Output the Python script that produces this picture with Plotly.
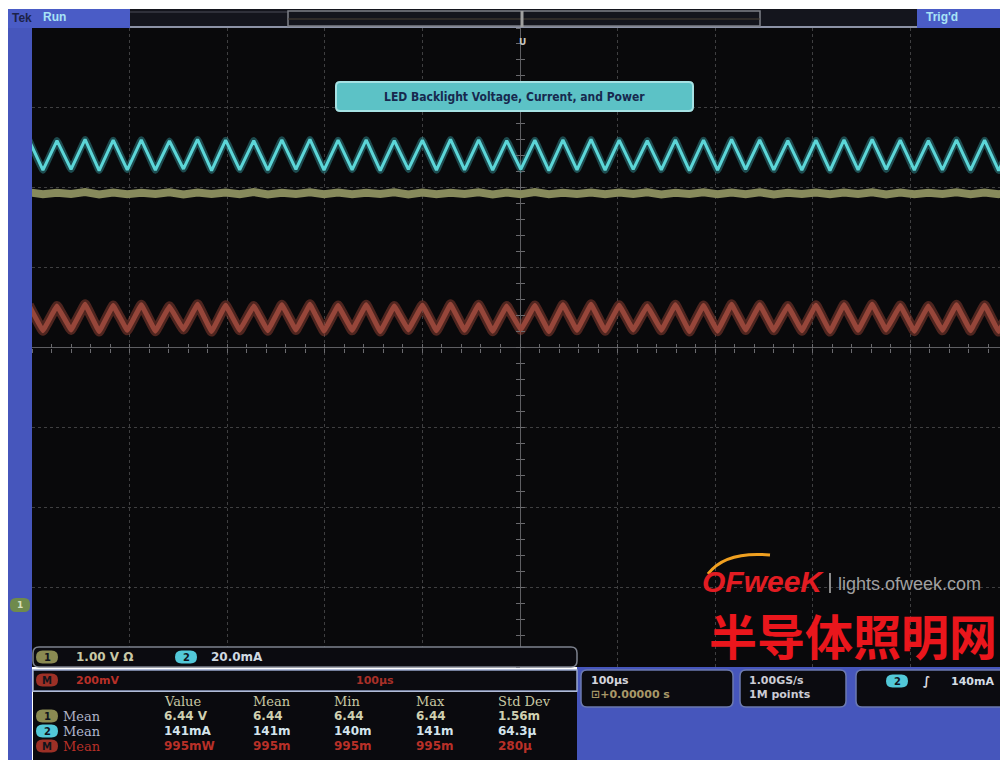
import plotly.graph_objects as go

# The page body adds an 8px margin, so the figure itself is 1000x752 and
# all decoration coordinates below are screen pixels shifted by that margin.
W, H = 1000, 752
OX, OY = 8, 8

time_range_us = [-500, 500]          # 100 us/div, 10 div, trigger at centre
period_us = 28.8                     # ripple period
first_peak_us = -503.2

# Channel 2 (current, mA) - vertex values of the triangle ripple
ch2_peak_mA = [144.8, 144.6, 144.9, 144.7, 144.8, 144.5, 144.9, 144.7, 144.6, 144.8,
               144.9, 144.7, 144.8, 144.6, 144.7, 144.9, 144.8, 144.6, 144.7, 144.8,
               144.9, 144.7, 144.6, 144.8, 144.7, 144.9, 144.8, 144.6, 144.7, 144.8,
               144.9, 144.7, 144.6, 144.8, 144.7, 144.8]
ch2_trough_mA = [137.2, 137.4, 137.1, 137.3, 137.2, 137.5, 137.1, 137.3, 137.2, 137.4,
                 137.2, 137.3, 137.1, 137.4, 137.2, 137.3, 137.2, 137.4, 137.1, 137.3,
                 137.2, 137.4, 137.3, 137.1, 137.2, 137.4, 137.3, 137.2, 137.1, 137.3,
                 137.4, 137.2, 137.3, 137.2, 137.1]

# Channel 1 (voltage, V) - nearly flat with small ripple
ch1_peak_V = [6.452, 6.448, 6.455, 6.450, 6.446, 6.453, 6.449, 6.451, 6.456, 6.447,
              6.452, 6.450, 6.448, 6.454, 6.451, 6.447, 6.453, 6.450, 6.455, 6.448,
              6.451, 6.449, 6.453, 6.447, 6.452, 6.450, 6.454, 6.448, 6.451, 6.449,
              6.453, 6.450, 6.447, 6.452, 6.449, 6.451]
ch1_trough_V = [6.428, 6.432, 6.426, 6.430, 6.433, 6.427, 6.431, 6.429, 6.425, 6.432,
                6.428, 6.430, 6.433, 6.427, 6.429, 6.431, 6.426, 6.430, 6.428, 6.432,
                6.429, 6.431, 6.427, 6.433, 6.428, 6.430, 6.426, 6.431, 6.429, 6.432,
                6.427, 6.430, 6.433, 6.428, 6.430]

# Math (power, mW)
math_peak_mW = [1027, 1025, 1029, 1026, 1028, 1024, 1029, 1027, 1025, 1028,
                1029, 1026, 1028, 1025, 1027, 1029, 1028, 1025, 1026, 1028,
                1029, 1027, 1025, 1028, 1026, 1029, 1028, 1025, 1027, 1028,
                1029, 1026, 1025, 1028, 1027, 1028]
math_trough_mW = [963, 965, 961, 964, 962, 966, 961, 964, 963, 965,
                  962, 964, 961, 965, 963, 964, 962, 965, 961, 964,
                  963, 965, 964, 961, 962, 965, 964, 963, 961, 964,
                  965, 962, 964, 963, 961]

# Vertical scale (units/div) and screen position (div)
ch1_scale, ch1_pos = 1.0, -4.51
ch2_scale, ch2_pos = 20.0, -4.64
math_scale, math_pos = 200.0, -4.605

# Readouts
ch_row = ["1.00 V Ω", "20.0mA"]
math_row = ["200mV", "100µs"]
meas_headers = ["Value", "Mean", "Min", "Max", "Std Dev"]
meas_ch1 = ["6.44 V", "6.44", "6.44", "6.44", "1.56m"]
meas_ch2 = ["141mA", "141m", "140m", "141m", "64.3µ"]
meas_math = ["995mW", "995m", "995m", "995m", "280µ"]
title_text = "LED Backlight Voltage, Current, and Power"

# ---------------- helpers ----------------
def fx(x):
    return (x - OX) / W

def fy(y):
    return 1 - (y - OY) / H

def vertices(peaks, troughs, scale, pos):
    t, v = [], []
    for i, p in enumerate(peaks):
        t.append(first_peak_us + i * period_us)
        v.append(p / scale + pos)
        if i < len(troughs):
            t.append(first_peak_us + (i + 0.5) * period_us)
            v.append(troughs[i] / scale + pos)
    return t, v

def rrect(x0, y0, x1, y1, r):
    return (f"M {fx(x0+r)},{fy(y0)} L {fx(x1-r)},{fy(y0)} Q {fx(x1)},{fy(y0)} {fx(x1)},{fy(y0+r)} "
            f"L {fx(x1)},{fy(y1-r)} Q {fx(x1)},{fy(y1)} {fx(x1-r)},{fy(y1)} "
            f"L {fx(x0+r)},{fy(y1)} Q {fx(x0)},{fy(y1)} {fx(x0)},{fy(y1-r)} "
            f"L {fx(x0)},{fy(y0+r)} Q {fx(x0)},{fy(y0)} {fx(x0+r)},{fy(y0)} Z")

shapes = []
annos = []

def rect(x0, y0, x1, y1, fill, line=None, lw=0):
    shapes.append(dict(type="rect", xref="paper", yref="paper", layer="above",
                       x0=fx(x0), x1=fx(x1), y0=fy(y1), y1=fy(y0),
                       fillcolor=fill, line=dict(color=line or fill, width=lw)))

def rbox(x0, y0, x1, y1, r, fill, line=None, lw=0):
    shapes.append(dict(type="path", xref="paper", yref="paper", layer="above",
                       path=rrect(x0, y0, x1, y1, r), fillcolor=fill,
                       line=dict(color=line or fill, width=lw)))

def hline(x0, x1, y, color, w=1):
    shapes.append(dict(type="line", xref="paper", yref="paper", layer="above",
                       x0=fx(x0), x1=fx(x1), y0=fy(y), y1=fy(y), line=dict(color=color, width=w)))

def vline(x, y0, y1, color, w=1):
    shapes.append(dict(type="line", xref="paper", yref="paper", layer="above",
                       x0=fx(x), x1=fx(x), y0=fy(y0), y1=fy(y1), line=dict(color=color, width=w)))

def text(x, y, s, color, size=12, anchor="left", family="DejaVu Sans", bold=True, bg=None):
    annos.append(dict(xref="paper", yref="paper", x=fx(x), y=fy(y), text=(f"<b>{s}</b>" if bold else s),
                      showarrow=False, xanchor=anchor, yanchor="middle",
                      font=dict(color=color, size=size, family=family),
                      bgcolor=bg, borderpad=0))

def badge(x0, y, label, fill, w=22, h=13):
    rbox(x0, y - h / 2, x0 + w, y + h / 2, h / 2, fill)
    text(x0 + w / 2, y, label, "#10141c", size=10, anchor="center")

# ---------------- traces ----------------
fig = go.Figure()

t2, y2 = vertices(ch2_peak_mA, ch2_trough_mA, ch2_scale, ch2_pos)
t1, y1 = vertices(ch1_peak_V, ch1_trough_V, ch1_scale, ch1_pos)
tm, ym = vertices(math_peak_mW, math_trough_mW, math_scale, math_pos)

fig.add_trace(go.Scatter(x=t1, y=y1, mode="lines", line=dict(color="#878a5c", width=8),
                         hoverinfo="skip", showlegend=False))
fig.add_trace(go.Scatter(x=tm, y=ym, mode="lines",
                         line=dict(color="rgba(150,66,52,0.5)", width=10, shape="spline", smoothing=0.15),
                         hoverinfo="skip", showlegend=False))
fig.add_trace(go.Scatter(x=tm, y=ym, mode="lines",
                         line=dict(color="#96463a", width=5, shape="spline", smoothing=0.1),
                         hoverinfo="skip", showlegend=False))
fig.add_trace(go.Scatter(x=t2, y=y2, mode="lines",
                         line=dict(color="rgba(70,200,205,0.35)", width=7, shape="spline", smoothing=0.15),
                         hoverinfo="skip", showlegend=False))
fig.add_trace(go.Scatter(x=t2, y=y2, mode="lines", line=dict(color="#5cd6d8", width=3),
                         hoverinfo="skip", showlegend=False))
# empty traces to register centre-line tick axes
for xa, ya in [("x2", "y"), ("x3", "y"), ("x", "y2"), ("x", "y3")]:
    fig.add_trace(go.Scatter(x=[], y=[], xaxis=xa, yaxis=ya, showlegend=False))

# ---------------- decorations ----------------
BLUE = "#4656bc"
# left frame and top bar
rect(8, 9, 32, 760, BLUE)
rect(8, 9, 1008, 28, "#14151d")
rect(8, 9, 130, 28, "#4a5cc6")
rect(917, 9, 1008, 28, "#4a5cc6")
hline(130, 917, 27, "#8c92a6", 2)
hline(130, 288, 12, "#4a4c58", 1)
shapes.append(dict(type="rect", xref="paper", yref="paper", layer="above",
                   x0=fx(288), x1=fx(760), y0=fy(26), y1=fy(11),
                   line=dict(color="#7e8088", width=1.5)))
hline(288, 760, 19, "#4a4236", 1)
vline(522, 11, 27, "#a0a0a0", 3)
text(522, 42, "U", "#c8c8c0", size=9, anchor="center")
text(11, 18, "Tek", "#1c2248", size=12, family="Liberation Sans")
text(42, 17, "Run", "#a8e4f6", size=12, family="Liberation Sans")
text(925, 17, "Trig'd", "#a8e4f6", size=12, family="Liberation Sans")

# left channel marker
rbox(10, 598, 30, 612, 6, "#6f8a4c")
text(20, 605, "1", "#d8e0c0", size=9, anchor="center")

# bottom blue and panels
rect(577, 667, 1008, 760, BLUE)
rbox(33, 647, 577, 667, 6, "#0b0b10", "#7d828e", 1.5)
rect(33, 670, 577, 691, "#0b0b10", "#98a6cc", 1.5)
rect(33, 692, 577, 760, "#0a0a0e")
rbox(581, 670, 733, 707, 6, "#0b0b10", "#6c7ab0", 1.5)
rbox(740, 670, 846, 707, 6, "#0b0b10", "#6c7ab0", 1.5)
rbox(856, 670, 1012, 707, 6, "#0b0b10", "#6c7ab0", 1.5)

# row 1
badge(36, 657, "1", "#8a8a52")
text(75, 657, ch_row[0], "#c8c8a6", size=12)
badge(175, 657, "2", "#52c8d8")
text(210, 657, ch_row[1], "#cfd8e0", size=12)
# row 2
badge(36, 680, "M", "#9c3026")
text(75, 680, math_row[0], "#b83028", size=11)
text(355, 680, math_row[1], "#a83028", size=11)

# measurement table
cols = [163, 252, 333, 415, 497]
for c, h in zip(cols, meas_headers):
    text(c, 701, h, "#c8c8a4", size=13, family="DejaVu Serif", bold=False)
rows = [(716, "1", "#8a8a52", "#b0b4c8", "#d0d0b0", meas_ch1),
        (731, "2", "#52c8d8", "#b0b8d0", "#d4e4ec", meas_ch2),
        (746, "M", "#9c3026", "#b83028", "#b83028", meas_math)]
for y, lab, bcol, lcol, vcol, vals in rows:
    badge(36, y, lab, bcol)
    text(62, y, "Mean", lcol, size=13, family="DejaVu Serif", bold=False)
    for c, v in zip(cols, vals):
        text(c, y, v, vcol, size=12)

# right panels
text(590, 680, "100µs", "#d4d4dc", size=11)
text(590, 694, "⊡+0.00000 s", "#a89868", size=11)
text(748, 680, "1.00GS/s", "#ccccd4", size=11)
text(748, 694, "1M points", "#ccccd4", size=11)
badge(886, 681, "2", "#52c8d8")
text(922, 681, "∫", "#e0e0e8", size=12)
text(950, 681, "140mA", "#d4dce4", size=11)

# title box
rbox(336, 82, 693, 111, 4, "#5cc2c6", "#a6e2e4", 2)
text(514, 97, title_text, "#17294e", size=12, anchor="center", family="DejaVu Sans Condensed")

# watermark
shapes.append(dict(type="path", xref="paper", yref="paper", layer="above",
                   path=f"M {fx(708)},{fy(574)} Q {fx(725)},{fy(551)} {fx(770)},{fy(555)}",
                   line=dict(color="#f0a020", width=3)))
text(701, 581, "<i>OFweeK</i>", "#e21c22", size=30, family="Liberation Sans")
vline(830, 573, 593, "#8a8a8a", 2)
text(837, 584, "lights.ofweek.com", "#a0a0a0", size=18, family="Liberation Sans", bold=False)
text(708, 634, "半导体照明网", "#ea161c", size=48, family="Noto Sans CJK SC")

# ---------------- layout ----------------
xdom = [fx(32), 1.0]
ydom = [fy(667), fy(28)]
grid = dict(showgrid=True, gridcolor="rgba(130,130,130,0.45)", griddash="dot", gridwidth=1,
            showticklabels=False, ticks="", showline=False, zeroline=True,
            zerolinecolor="#5e5e62", zerolinewidth=1, fixedrange=True)
tickax = dict(showgrid=False, zeroline=False, showticklabels=False, showline=False,
              ticklen=4, tickcolor="#6a6a6e", tickwidth=1, fixedrange=True)

fig.update_layout(
    width=W, height=H, autosize=False,
    margin=dict(l=0, r=0, t=0, b=0, pad=0),
    paper_bgcolor="white", plot_bgcolor="#09090b",
    showlegend=False,
    xaxis=dict(domain=xdom, range=time_range_us, dtick=100, tick0=0, **grid),
    yaxis=dict(domain=ydom, range=[-4, 4], dtick=1, tick0=0, **grid),
    xaxis2=dict(overlaying="x", anchor="free", position=(ydom[0] + ydom[1]) / 2,
                range=time_range_us, dtick=20, tick0=0, ticks="inside", **tickax),
    xaxis3=dict(overlaying="x", anchor="free", position=(ydom[0] + ydom[1]) / 2,
                range=time_range_us, dtick=20, tick0=0, ticks="outside", **tickax),
    yaxis2=dict(overlaying="y", anchor="free", position=(xdom[0] + xdom[1]) / 2,
                range=[-4, 4], dtick=0.2, tick0=0, ticks="inside", **tickax),
    yaxis3=dict(overlaying="y", anchor="free", position=(xdom[0] + xdom[1]) / 2,
                range=[-4, 4], dtick=0.2, tick0=0, ticks="outside", **tickax),
    shapes=shapes, annotations=annos,
)

fig.write_html("out.html")
